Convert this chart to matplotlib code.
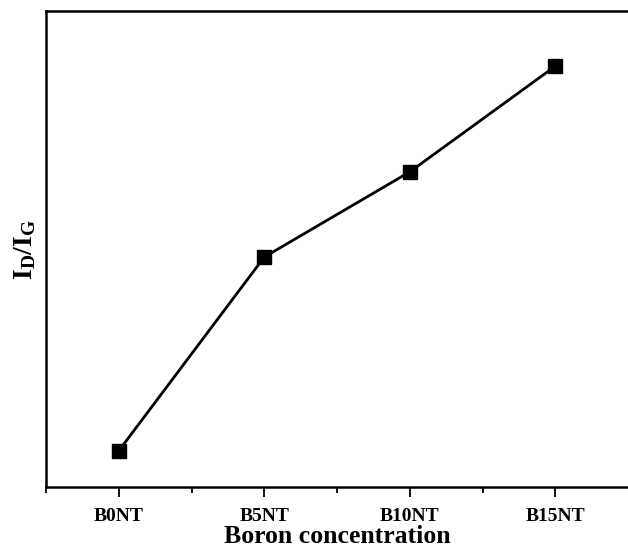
import matplotlib
matplotlib.use("Agg")
import matplotlib.pyplot as plt
from matplotlib.ticker import FixedLocator

# data (relative I_D/I_G, no y scale shown)
samples = ["B0NT", "B5NT", "B10NT", "B15NT"]
id_ig = [0.076, 0.483, 0.662, 0.884]

plt.rcParams['font.family'] = ['Liberation Serif', 'DejaVu Serif']
plt.rcParams['font.weight'] = 'bold'
plt.rcParams['mathtext.fontset'] = 'custom'
plt.rcParams['mathtext.rm'] = 'Liberation Serif:bold'
plt.rcParams['mathtext.it'] = 'Liberation Serif:bold'
plt.rcParams['mathtext.bf'] = 'Liberation Serif:bold'

fig = plt.figure(figsize=(6.28, 5.49), dpi=100)
ax = fig.add_axes([0.0733, 0.113, 0.9267, 0.867])

x = list(range(len(samples)))
ax.plot(x, id_ig, color='black', linewidth=2.0, marker='s', markersize=10,
        markerfacecolor='black', markeredgecolor='black')

ax.set_xlim(-0.5, 3.5)
ax.set_ylim(0, 1)
ax.set_xticks(x)
ax.set_xticklabels(samples, fontsize=14, fontweight='bold')
ax.xaxis.set_minor_locator(FixedLocator([-0.5, 0.5, 1.5, 2.5]))
ax.set_yticks([])
ax.tick_params(axis='x', which='major', direction='out', length=7, width=1.3, pad=8)
ax.tick_params(axis='x', which='minor', direction='out', length=4, width=1.3)

for s in ax.spines.values():
    s.set_linewidth(1.8)
ax.spines['right'].set_visible(False)

ax.set_xlabel("Boron concentration", fontsize=18.5, fontweight='bold', labelpad=0)
ax.set_ylabel(r"$\mathrm{I_D/I_G}$", fontsize=20, labelpad=6)

plt.savefig("out.png", dpi=100)
plt.close()
